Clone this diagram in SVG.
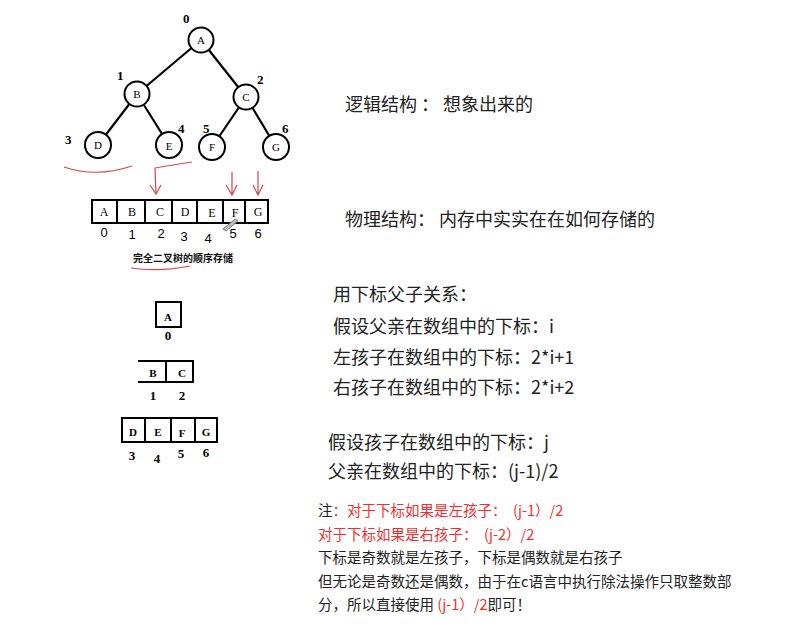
<svg xmlns="http://www.w3.org/2000/svg" width="790" height="638" viewBox="0 0 790 638">
<style>
.edge{stroke:#000;stroke-width:2.2;fill:none}
.node circle{fill:#fff;stroke:#000;stroke-width:2}
.lt{font-family:"Liberation Serif",serif;font-size:11px;text-anchor:middle;fill:#000}
.idx{font-family:"Liberation Serif",serif;font-size:13px;font-weight:bold;fill:#000}
.cell{fill:none;stroke:#000;stroke-width:2}
.al{font-family:"Liberation Serif",serif;font-size:12px;text-anchor:middle;fill:#000}
.an{font-family:"Liberation Sans",sans-serif;font-size:13px;text-anchor:middle;fill:#000}
.sl{font-family:"Liberation Serif",serif;font-size:11px;font-weight:bold;text-anchor:middle;fill:#000}
.sn{font-family:"Liberation Serif",serif;font-size:13px;font-weight:bold;text-anchor:middle;fill:#000}
.red{stroke:#d6474a;stroke-width:1.2;fill:none}
.tx{font-family:"Noto Sans CJK SC",sans-serif;font-size:18px;fill:#222}
.sm{font-family:"Noto Sans CJK SC",sans-serif;font-size:14.5px;fill:#222}
.r{fill:#ee3030}
</style>

<g id="connectors">
<line class="edge" x1="201" y1="40" x2="137" y2="94"/>
<line class="edge" x1="201" y1="40" x2="246" y2="97"/>
<line class="edge" x1="137" y1="94" x2="98" y2="145"/>
<line class="edge" x1="137" y1="94" x2="169" y2="145"/>
<line class="edge" x1="246" y1="97" x2="212" y2="147"/>
<line class="edge" x1="246" y1="97" x2="276" y2="147"/>
</g>

<g id="node-A" class="node"><circle cx="201" cy="40" r="12.5"/><text class="lt" x="201" y="44">A</text><text class="idx" x="183" y="23">0</text></g>
<g id="node-B" class="node"><circle cx="137" cy="94" r="12.5"/><text class="lt" x="137" y="98">B</text><text class="idx" x="117" y="80">1</text></g>
<g id="node-C" class="node"><circle cx="246" cy="97" r="12.5"/><text class="lt" x="246" y="101">C</text><text class="idx" x="257" y="84">2</text></g>
<g id="node-D" class="node"><circle cx="98" cy="145" r="13"/><text class="lt" x="98" y="149">D</text><text class="idx" x="65" y="144">3</text></g>
<g id="node-E" class="node"><circle cx="169" cy="145" r="13"/><text class="lt" x="169" y="150">E</text><text class="idx" x="178" y="133">4</text></g>
<g id="node-F" class="node"><circle cx="212" cy="147" r="13"/><text class="lt" x="212" y="151">F</text><text class="idx" x="203" y="133">5</text></g>
<g id="node-G" class="node"><circle cx="276" cy="147" r="13"/><text class="lt" x="276" y="151">G</text><text class="idx" x="282" y="133">6</text></g>

<g id="red-marks">
<path class="red" d="M64 167 Q 96 178 132 166"/>
<path class="red" d="M192 162 Q 172 165 155 168 L 156 194"/>
<path class="red" d="M150 185 L 156 194 L 161 185"/>
<path class="red" d="M232 172 L 232 195 M226 185 L 232 195 L 237 185"/>
<path class="red" d="M258 171 L 258 195 M253 185 L 258 195 L 263 185"/>
<path class="red" d="M131 268 Q 160 272 190 266"/>
</g>

<g id="array-full">
<rect class="cell" x="92" y="200" width="176" height="23" stroke-width="2.4"/>
<path class="cell" d="M117 200V223M145 200V223M172 200V223M197 200V223M223 200V223M245 200V223"/>
<text class="al" x="104" y="216">A</text>
<text class="al" x="132" y="216">B</text>
<text class="al" x="160" y="216">C</text>
<text class="al" x="185" y="216">D</text>
<text class="al" x="212" y="217">E</text>
<text class="al" x="235" y="217">F</text>
<text class="al" x="258" y="216">G</text>
<text class="an" x="104" y="237">0</text>
<text class="an" x="132" y="239">1</text>
<text class="an" x="161" y="238">2</text>
<text class="an" x="184" y="241">3</text>
<text class="an" x="208" y="243">4</text>
<text class="an" x="233" y="238">5</text>
<text class="an" x="258" y="238">6</text>
<path d="M223 229 L235 219 L238 221 L226 231 Z" fill="#bbb" stroke="#666" stroke-width="0.8"/>
<text x="133" y="262" font-family="Noto Sans CJK SC, sans-serif" font-size="10px" font-weight="bold" fill="#111">完全二叉树的顺序存储</text>
</g>

<g id="array-level0">
<rect class="cell" x="156" y="302" width="25" height="25"/>
<text class="sl" x="168" y="321">A</text>
<text class="sn" x="168" y="340">0</text>
</g>

<g id="array-level1">
<path class="cell" d="M138 361H193V382H138M166 361V382"/>
<text class="sl" x="153" y="377">B</text>
<text class="sl" x="182" y="377">C</text>
<text class="sn" x="153" y="400">1</text>
<text class="sn" x="182" y="400">2</text>
</g>

<g id="array-level2">
<rect class="cell" x="122" y="418" width="95" height="24"/>
<path class="cell" d="M145 418V442M171 418V442M195 418V442"/>
<text class="sl" x="133" y="436">D</text>
<text class="sl" x="158" y="436" font-weight="normal">E</text>
<text class="sl" x="182" y="437">F</text>
<text class="sl" x="206" y="436">G</text>
<text class="sn" x="132" y="460">3</text>
<text class="sn" x="157" y="463">4</text>
<text class="sn" x="181" y="458">5</text>
<text class="sn" x="206" y="457">6</text>
</g>

<g id="notes">
<text class="tx" x="345" y="111" xml:space="preserve">逻辑结构 ： 想象出来的</text>
<text class="tx" x="345" y="226" xml:space="preserve">物理结构： 内存中实实在在如何存储的</text>
<text class="tx" x="333" y="301">用下标父子关系：</text>
<text class="tx" x="333" y="333">假设父亲在数组中的下标：i</text>
<text class="tx" x="333" y="364">左孩子在数组中的下标：2*i+1</text>
<text class="tx" x="333" y="394">右孩子在数组中的下标：2*i+2</text>
<text class="tx" x="328" y="449">假设孩子在数组中的下标：j</text>
<text class="tx" x="328" y="478">父亲在数组中的下标：(j-1)/2</text>
<text class="sm" x="318" y="516" xml:space="preserve">注<tspan class="r">：对于下标如果是左孩子：  (j-1）/2</tspan></text>
<text class="sm r" x="318" y="540" xml:space="preserve">对于下标如果是右孩子：  (j-2）/2</text>
<text class="sm" x="318" y="563">下标是奇数就是左孩子，下标是偶数就是右孩子</text>
<text class="sm" x="318" y="587">但无论是奇数还是偶数，由于在c语言中执行除法操作只取整数部</text>
<text class="sm" x="318" y="610" xml:space="preserve">分，所以直接使用 <tspan class="r">(j-1）/2</tspan>即可！</text>
</g>
</svg>
